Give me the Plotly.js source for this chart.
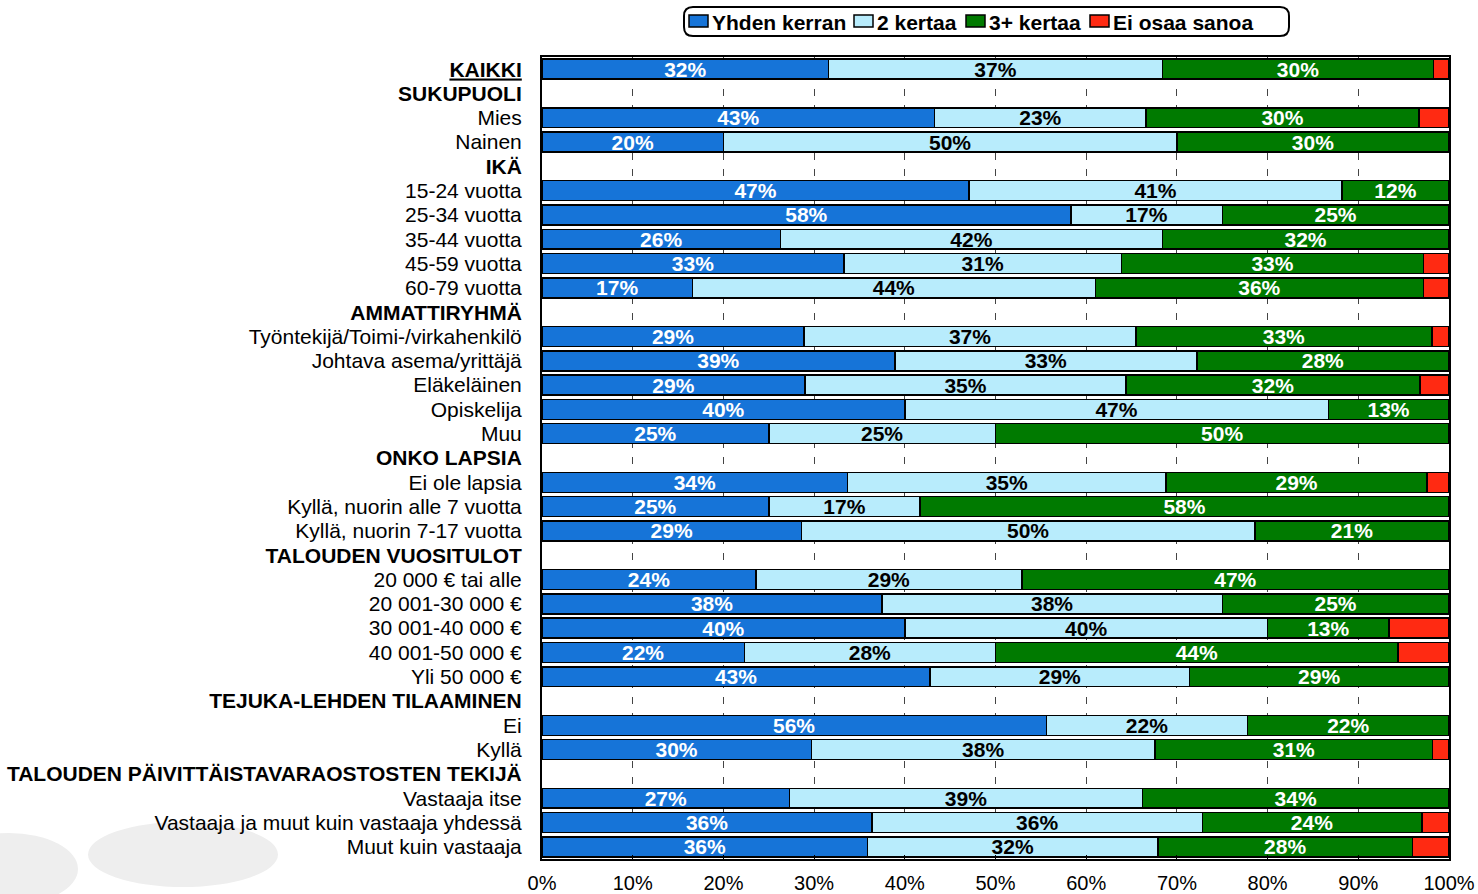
<!DOCTYPE html>
<html>
<head>
<meta charset="utf-8">
<script src="https://cdn.plot.ly/plotly-3.0.1.min.js"></script>
<style>html,body{margin:0;padding:0;background:#fff;}#chart{width:1478px;height:894px;}</style>
</head>
<body>
<div id="chart"></div>
<script>
const categories = [
  "KAIKKI", "SUKUPUOLI", "Mies", "Nainen", "IKÄ",
  "15-24 vuotta", "25-34 vuotta", "35-44 vuotta", "45-59 vuotta", "60-79 vuotta",
  "AMMATTIRYHMÄ", "Työntekijä/Toimi-/virkahenkilö", "Johtava asema/yrittäjä", "Eläkeläinen", "Opiskelija", "Muu",
  "ONKO LAPSIA", "Ei ole lapsia", "Kyllä, nuorin alle 7 vuotta", "Kyllä, nuorin 7-17 vuotta",
  "TALOUDEN VUOSITULOT", "20 000 € tai alle", "20 001-30 000 €", "30 001-40 000 €", "40 001-50 000 €", "Yli 50 000 €",
  "TEJUKA-LEHDEN TILAAMINEN", "Ei", "Kyllä",
  "TALOUDEN PÄIVITTÄISTAVARAOSTOSTEN TEKIJÄ", "Vastaaja itse", "Vastaaja ja muut kuin vastaaja yhdessä", "Muut kuin vastaaja"
];
const headerLabels = ["KAIKKI", "SUKUPUOLI", "IKÄ", "AMMATTIRYHMÄ", "ONKO LAPSIA", "TALOUDEN VUOSITULOT", "TEJUKA-LEHDEN TILAAMINEN", "TALOUDEN PÄIVITTÄISTAVARAOSTOSTEN TEKIJÄ"];
const seriesNames = ["Yhden kerran", "2 kertaa", "3+ kertaa", "Ei osaa sanoa"];

const yhdenKerran = [31.6, null, 43.3, 20.0, null, 47.1, 58.3, 26.3, 33.3, 16.6, null, 28.9, 38.9, 29.0, 40.0, 25.0, null, 33.7, 25.0, 28.6, null, 23.6, 37.5, 40.0, 22.3, 42.8, null, 55.6, 29.7, null, 27.3, 36.4, 35.9];
const kaksiKertaa = [36.8, null, 23.3, 50.0, null, 41.1, 16.7, 42.1, 30.6, 44.4, null, 36.6, 33.3, 35.4, 46.7, 25.0, null, 35.1, 16.7, 50.0, null, 29.3, 37.5, 40.0, 27.7, 28.6, null, 22.2, 37.9, null, 38.9, 36.4, 32.0];
const kolmePlus = [29.9, null, 30.1, 30.0, null, 11.8, 25.0, 31.6, 33.3, 36.2, null, 32.6, 27.8, 32.4, 13.3, 50.0, null, 28.8, 58.3, 21.4, null, 47.1, 25.0, 13.4, 44.4, 28.6, null, 22.2, 30.6, null, 33.8, 24.2, 28.1];
const eiOsaaSanoa = [1.7, null, 3.3, 0, null, 0, 0, 0, 2.8, 2.8, null, 1.9, 0, 3.2, 0, 0, null, 2.4, 0, 0, null, 0, 0, 6.6, 5.6, 0, null, 0, 1.8, null, 0, 3.0, 4.0];
const xTickVals = [0, 10, 20, 30, 40, 50, 60, 70, 80, 90, 100];
const xTickText = ["0%", "10%", "20%", "30%", "40%", "50%", "60%", "70%", "80%", "90%", "100%"];

const colors = ["#1674d8", "#b8ecfc", "#007a00", "#ff2a12"];
const textColors = ["#ffffff", "#000000", "#ffffff", "#ffffff"];
const FONT = "Liberation Sans, Arial, sans-serif";
const FS = 21;

const yIdx = categories.map((c, i) => i);
const tickText = categories.map(c => {
  if (c === "KAIKKI") return "<b><u>" + c + "</u></b>";
  if (headerLabels.includes(c)) return "<b>" + c + "</b>";
  return c;
});

const seriesValues = [yhdenKerran, kaksiKertaa, kolmePlus, eiOsaaSanoa];
const traces = seriesValues.map((vals, s) => ({
  type: "bar",
  orientation: "h",
  name: seriesNames[s],
  x: vals,
  y: yIdx,
  marker: {color: colors[s], line: {color: "#000000", width: 1.5}},
  text: vals.map(v => (s < 3 && v !== null && v > 0) ? Math.round(v) + "%" : ""),
  textposition: "inside",
  insidetextanchor: "middle",
  constraintext: "none",
  textfont: {family: FONT, size: FS, color: textColors[s], weight: "bold"},
  hoverinfo: "x+name",
  showlegend: false
}));

// pixel -> paper helpers (plot area: x 542..1449, y 57..859)
const toPX = px => (px - 542) / 907;
const toPY = py => (859 - py) / 802;

// legend drawn as shapes + annotations
const legendBox = {x0: 684, x1: 1289, y0: 7, y1: 36, r: 9};
const legendSwatchX = [689, 854, 966, 1090];
const shapes = [];
const annotations = [];
{
  const b = legendBox;
  const X = toPX, Y = toPY;
  const path = `M ${X(b.x0 + b.r)},${Y(b.y0)} L ${X(b.x1 - b.r)},${Y(b.y0)} Q ${X(b.x1)},${Y(b.y0)} ${X(b.x1)},${Y(b.y0 + b.r)} ` +
    `L ${X(b.x1)},${Y(b.y1 - b.r)} Q ${X(b.x1)},${Y(b.y1)} ${X(b.x1 - b.r)},${Y(b.y1)} ` +
    `L ${X(b.x0 + b.r)},${Y(b.y1)} Q ${X(b.x0)},${Y(b.y1)} ${X(b.x0)},${Y(b.y1 - b.r)} ` +
    `L ${X(b.x0)},${Y(b.y0 + b.r)} Q ${X(b.x0)},${Y(b.y0)} ${X(b.x0 + b.r)},${Y(b.y0)} Z`;
  shapes.push({type: "path", xref: "paper", yref: "paper", path: path, fillcolor: "#ffffff", line: {color: "#000000", width: 2}});
  seriesNames.forEach((n, s) => {
    const sx = legendSwatchX[s];
    shapes.push({type: "rect", xref: "paper", yref: "paper",
      x0: X(sx), x1: X(sx + 19), y0: Y(27), y1: Y(15),
      fillcolor: colors[s], line: {color: "#000000", width: 1.5}});
    annotations.push({xref: "paper", yref: "paper", x: X(sx + 21), y: Y(22),
      xanchor: "left", yanchor: "middle", showarrow: false, text: "<b>" + n + "</b>",
      font: {family: FONT, size: FS, color: "#000000"}});
  });
}
// background watermark ellipses
shapes.unshift(
  {type: "circle", xref: "paper", yref: "paper", layer: "below",
   x0: toPX(-60), x1: toPX(78), y0: toPY(905), y1: toPY(833),
   fillcolor: "#eeeeee", line: {width: 0}},
  {type: "circle", xref: "paper", yref: "paper", layer: "below",
   x0: toPX(88), x1: toPX(278), y0: toPY(887), y1: toPY(822),
   fillcolor: "#eeeeee", line: {width: 0}}
);

const layout = {
  width: 1478,
  height: 894,
  margin: {l: 542, r: 29, t: 57, b: 35},
  paper_bgcolor: "#ffffff",
  plot_bgcolor: "#ffffff",
  barmode: "stack",
  bargap: 0.18,
  font: {family: FONT, size: FS, color: "#000000"},
  showlegend: false,
  xaxis: {
    range: [0, 100],
    tickvals: xTickVals,
    ticktext: xTickText,
    showgrid: true,
    gridcolor: "#444444",
    gridwidth: 1,
    griddash: "7px,9px",
    zeroline: false,
    showline: true,
    linecolor: "#000000",
    linewidth: 2,
    mirror: true,
    ticks: "inside",
    ticklen: 4,
    tickcolor: "#000000",
    ticklabelstandoff: 5,
    tickfont: {family: FONT, size: 20, color: "#000000"},
    automargin: false,
    fixedrange: true
  },
  yaxis: {
    range: [32.5, -0.5],
    tickvals: yIdx,
    ticktext: tickText,
    showgrid: false,
    zeroline: false,
    showline: true,
    linecolor: "#000000",
    linewidth: 2,
    mirror: true,
    ticks: "",
    ticklabelstandoff: 14,
    tickfont: {family: FONT, size: FS, color: "#000000"},
    automargin: false,
    fixedrange: true
  },
  shapes: shapes,
  annotations: annotations
};

Plotly.newPlot("chart", traces, layout, {displayModeBar: false, staticPlot: true});
</script>
</body>
</html>
